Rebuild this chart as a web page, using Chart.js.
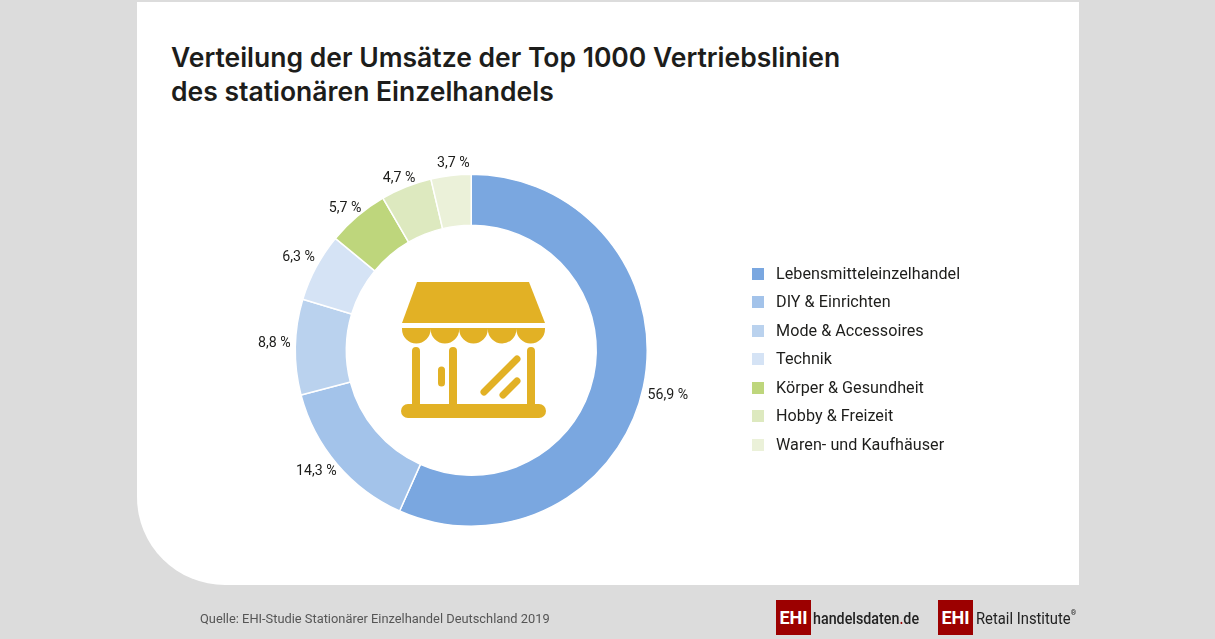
<!DOCTYPE html>
<html lang="de">
<head>
<meta charset="utf-8">
<title>Verteilung der Umsätze</title>
<script src="https://cdn.jsdelivr.net/npm/chart.js@4"></script>
<style>
html, body { margin: 0; padding: 0; width: 1215px; height: 639px; overflow: hidden; background: #dcdcdc; font-family: Roboto, sans-serif; color: #1d1d1b; }
#card { position: absolute; left: 137px; top: 2px; width: 942px; height: 583px; background: #fff; border-bottom-left-radius: 88px; }
#chartBox { position: absolute; left: 0; top: 0; width: 1215px; height: 639px; }
h1 { position: absolute; left: 171px; top: 40px; margin: 0; font: 600 26.5px/34px Inter, sans-serif; white-space: nowrap; color: #1d1d1b; }
#legend { position: absolute; left: 752px; top: 259.5px; margin: 0; padding: 0; list-style: none; font-size: 16.15px; letter-spacing: 0.04px; }
#legend li { height: 28.6px; line-height: 28.6px; white-space: nowrap; }
#legend i { display: inline-block; width: 12px; height: 12px; margin-right: 12px; vertical-align: -1px; }
#icon { position: absolute; left: 0; top: 0; }
#source { position: absolute; left: 200px; top: 611px; font-size: 12.85px; color: #555; white-space: nowrap; }
.ehi { position: absolute; top: 600px; width: 35px; height: 35px; background: #9c0000; color: #fff; font: 700 18px/35px Roboto, sans-serif; text-align: center; }
.brand { position: absolute; top: 606px; font: 500 17px/24px Roboto, sans-serif; color: #222; white-space: nowrap; transform-origin: left center; }
.brand b { color: #9c0000; font-weight: 500; }
.brand sup { font-size: 8px; line-height: 0; vertical-align: 9px; }
</style>
</head>
<body>
<div id="card"></div>
<h1>Verteilung der Umsätze der Top 1000 Vertriebslinien<br>des stationären Einzelhandels</h1>
<div id="chartBox"><canvas id="shareChart" width="1215" height="639"></canvas></div>
<svg id="icon" width="1215" height="639" fill="#e2b125">
  <path d="M417 282H529L545 323H402Z"/>
  <path d="M402 328H545V329A14.3 14.5 0 0 1 516.4 329A14.3 14.5 0 0 1 487.8 329A14.3 14.5 0 0 1 459.2 329A14.3 14.5 0 0 1 430.6 329A14.3 14.5 0 0 1 402 329Z"/>
  <g stroke="#e2b125" stroke-linecap="round" fill="none">
    <path stroke-width="8" d="M416 351V408M453 351V408M531 351V408"/>
    <path stroke-width="14" d="M408 411H539"/>
    <path stroke-width="7" d="M441.5 370V383M484 392L517 359M503 395L517 381"/>
  </g>
</svg>
<ul id="legend"></ul>
<div id="source">Quelle: EHI-Studie Stationärer Einzelhandel Deutschland 2019</div>
<div class="ehi" style="left:776px">EHI</div>
<div class="brand" style="left:813px;transform:scaleX(.84)">handelsdaten<b>.</b>de</div>
<div class="ehi" style="left:938px">EHI</div>
<div class="brand" style="left:976px;font-weight:400;transform:scaleX(.87)">Retail Institute<sup>®</sup></div>
<script>
const categories = ['Lebensmitteleinzelhandel', 'DIY & Einrichten', 'Mode & Accessoires', 'Technik', 'Körper & Gesundheit', 'Hobby & Freizeit', 'Waren- und Kaufhäuser'];
const shares = [56.9, 14.3, 8.8, 6.3, 5.7, 4.7, 3.7];
const shareLabels = ['56,9 %', '14,3 %', '8,8 %', '6,3 %', '5,7 %', '4,7 %', '3,7 %'];
const sliceColors = ['#7aa7e0', '#a3c3ea', '#bad2ee', '#d5e3f5', '#bed67c', '#dde9bf', '#ebf1d9'];

// value labels outside the ring, hand nudged per slice like the original
const labelNudges = [[3, 6], [-4, -1], [1, -3], [2, -4], [2, 2], [1, 4], [5, 1]];
const outsideLabels = {
    id: 'outsideLabels',
    afterDatasetsDraw(chart) {
        const ctx = chart.ctx;
        ctx.save();
        ctx.font = '14.2px Roboto, sans-serif';
        ctx.fillStyle = '#1d1d1b';
        ctx.textAlign = 'center';
        ctx.textBaseline = 'middle';
        chart.getDatasetMeta(0).data.forEach(function (arc, i) {
            const p = arc.getProps(['x', 'y', 'startAngle', 'endAngle', 'outerRadius'], true);
            const mid = (p.startAngle + p.endAngle) / 2;
            const x = p.x + Math.cos(mid) * (p.outerRadius + 22) + labelNudges[i][0];
            const y = p.y + Math.sin(mid) * (p.outerRadius + 13) + labelNudges[i][1];
            ctx.fillText(shareLabels[i], x, y);
        });
        ctx.restore();
    }
};

const ctx = document.getElementById('shareChart').getContext('2d');
new Chart(ctx, {
    type: 'doughnut',
    data: {
        labels: categories,
        datasets: [{
            data: shares,
            backgroundColor: sliceColors,
            borderColor: '#ffffff',
            borderWidth: 1.5,
        }]
    },
    options: {
        responsive: false,
        animation: false,
        cutout: '71%',
        layout: { padding: { left: 294.5, right: 567, top: 173.5, bottom: 112 } },
        plugins: {
            legend: { display: false },
            tooltip: { enabled: false },
        }
    },
    plugins: [outsideLabels]
});

const legend = document.getElementById('legend');
categories.forEach(function (name, i) {
    const li = document.createElement('li');
    const box = document.createElement('i');
    box.style.background = sliceColors[i];
    li.appendChild(box);
    li.appendChild(document.createTextNode(name));
    legend.appendChild(li);
});
</script>
</body>
</html>
